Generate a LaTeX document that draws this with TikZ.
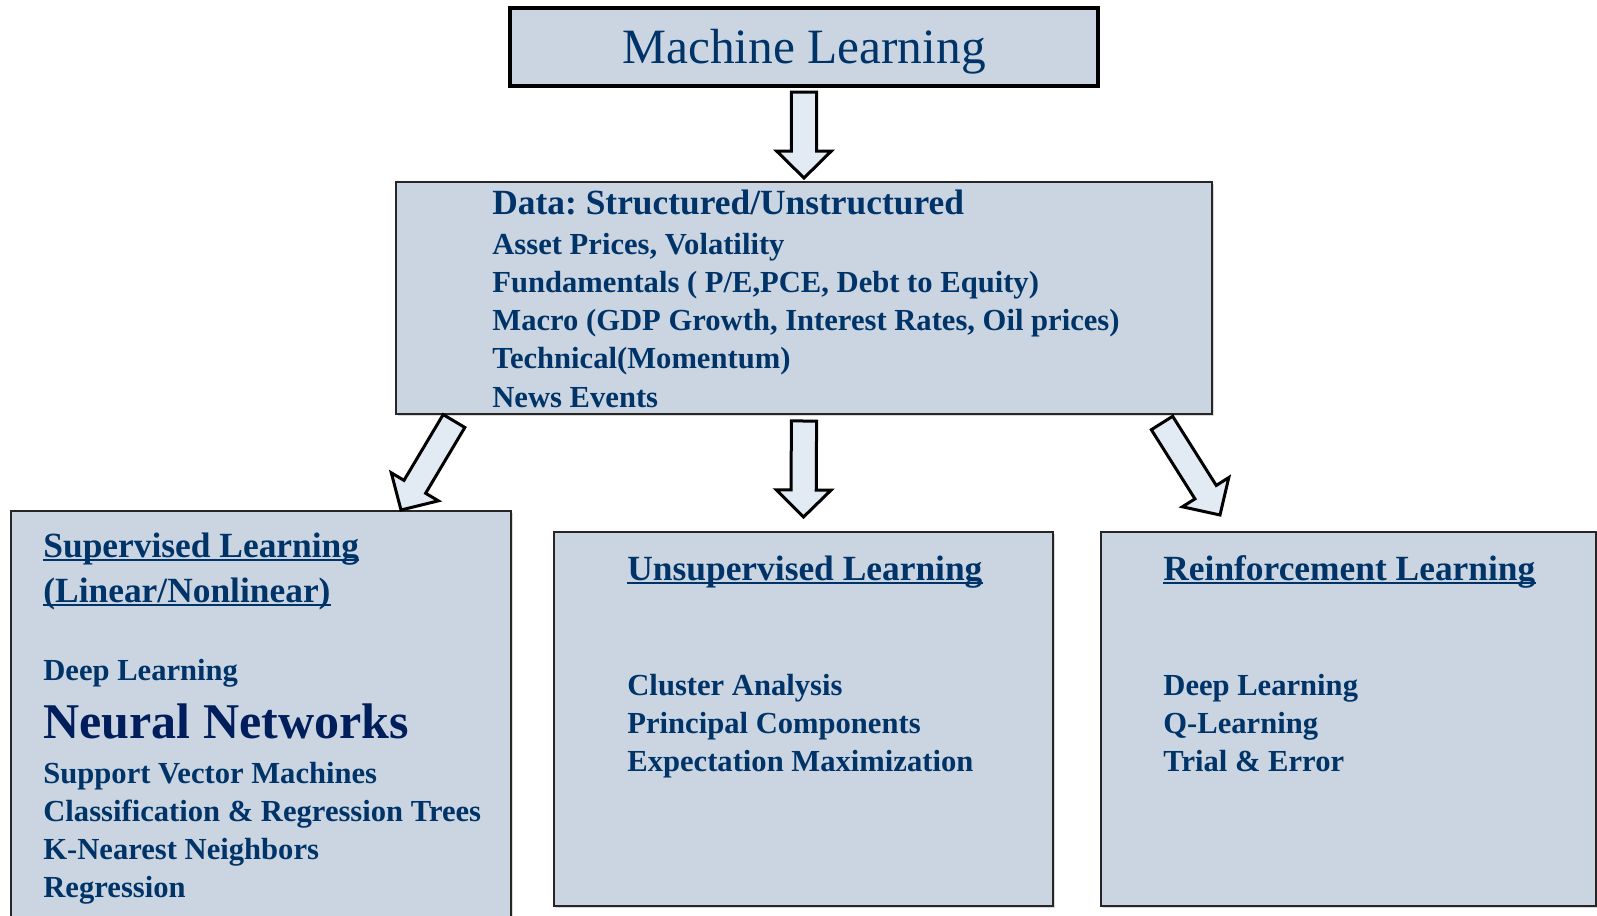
\documentclass[tikz,border=0pt]{standalone}
\usepackage{fontspec}
\setmainfont{Liberation Serif}
\usetikzlibrary{calc, shadows}
\definecolor{boxgray}{RGB}{202,213,225}
\definecolor{arrowfill}{RGB}{226,234,244}
\definecolor{navy}{RGB}{0,52,104}
\definecolor{deepnavy}{RGB}{0,30,92}
\frenchspacing

\tikzset{
  panel/.style={draw=black!85, line width=0.8pt, fill=boxgray, inner sep=0pt,
                outer sep=0pt, anchor=north west,
                drop shadow={shadow xshift=0.9pt, shadow yshift=-0.9pt, opacity=0.3}},
  titlebox/.style={draw=black, line width=1.7pt, fill=boxgray, inner sep=0pt,
                   outer sep=0pt, anchor=north west},
  heading/.style={font=\fontsize{17.7}{20}\selectfont\bfseries, text=navy,
                  inner sep=0pt, anchor=base west},
  item/.style={font=\fontsize{15.3}{18}\selectfont\bfseries, text=navy,
               inner sep=0pt, anchor=base west},
  uline/.style={navy, line width=0.8pt},
  fatarrow/.style={draw=black, line width=1.5pt, fill=arrowfill, line join=miter},
}

% block arrow from tail #1 to tip #2
\newcommand{\blockarrow}[2]{%
  \coordinate (hb) at ($(#2)!13.5pt!(#1)$);
  \draw[fatarrow] ($(#1)!6.3pt!90:(#2)$) -- ($(hb)!6.3pt!90:(#2)$)
    -- ($(hb)!13.7pt!90:(#2)$) -- (#2) -- ($(hb)!13.7pt!-90:(#2)$)
    -- ($(hb)!6.3pt!-90:(#2)$) -- ($(#1)!6.3pt!-90:(#2)$) -- cycle;
}

\begin{document}
\begin{tikzpicture}[x=0.5pt, y=-0.5pt]
  \useasboundingbox (0,0) rectangle (1597,916);
  \clip (0,0) rectangle (1597,916);

  % Title
  \node[titlebox, minimum width=294pt, minimum height=39pt] (ml) at (510,8) {};
  \node[font=\fontsize{24.7}{28}\selectfont, text=navy, anchor=base] (mltext)
    at (804,63) {Machine Learning};

  % Data box
  \node[panel, minimum width=408pt, minimum height=116pt] (data) at (396,182) {};
  \node[heading] (dhead) at (492,214) {Data: Structured/Unstructured};
  \foreach \txt [count=\i] in {{Asset Prices, Volatility},
      {Fundamentals ( P/E,PCE, Debt to Equity)},
      {Macro (GDP Growth, Interest Rates, Oil prices)},
      {Technical(Momentum)}, {News Events}}
    \node[item] (d\i) at (492,{254+(\i-1)*38.3}) {\txt};

  % Supervised
  \node[panel, minimum width=250pt, minimum height=215pt] (sup) at (11,511) {};
  \node[heading] (sh1) at (43,557) {Supervised Learning};
  \node[heading] (sh2) at (43,602) {(Linear/Nonlinear)};
  \node[item] (s0) at (43,680) {Deep Learning};
  \node[item, font=\fontsize{25}{28}\selectfont\bfseries, text=deepnavy] (snn)
    at (43,738) {Neural Networks};
  \foreach \txt [count=\i] in {Support Vector Machines,
      Classification \& Regression Trees, K-Nearest Neighbors, Regression}
    \node[item] (s\i) at (43,{783+(\i-1)*38.1}) {\txt};

  % Unsupervised
  \node[panel, minimum width=249.5pt, minimum height=187pt] (ul) at (554,532) {};
  \node[heading] (uh) at (627,580) {Unsupervised Learning};
  \foreach \txt [count=\i] in {Cluster Analysis, Principal Components,
      Expectation Maximization}
    \node[item] (u\i) at (627,{695+(\i-1)*38}) {\txt};

  % Reinforcement
  \node[panel, minimum width=247.5pt, minimum height=187pt] (rl) at (1101,532) {};
  \node[heading] (rh) at (1163,580) {Reinforcement Learning};
  \foreach \txt [count=\i] in {Deep Learning, Q-Learning, Trial \& Error}
    \node[item] (r\i) at (1163,{695+(\i-1)*38}) {\txt};

  % Underlines
  \foreach \n in {sh1, sh2, uh, rh}
    \draw[uline] ([yshift=-1.5pt]\n.base west) -- ([yshift=-1.5pt]\n.base east);

  % Arrows
  \coordinate (a1s) at ([yshift=-3pt]ml.south);
  \coordinate (a1e) at ([yshift=2pt]data.north);
  \coordinate (a2s) at ([yshift=-3.5pt]data.south);
  \coordinate (a2e) at ([yshift=7.5pt]ul.north);
  \coordinate (a3s) at ([xshift=29pt, yshift=-3.5pt]data.south west);
  \coordinate (a3e) at ([xshift=-55pt, yshift=0.5pt]sup.north east);
  \coordinate (a4s) at ([xshift=-25pt, yshift=-4.5pt]data.south east);
  \coordinate (a4e) at ([xshift=59.5pt, yshift=8.5pt]rl.north west);
  \blockarrow{a1s}{a1e}
  \blockarrow{a2s}{a2e}
  \blockarrow{a3s}{a3e}
  \blockarrow{a4s}{a4e}
\end{tikzpicture}
\end{document}
